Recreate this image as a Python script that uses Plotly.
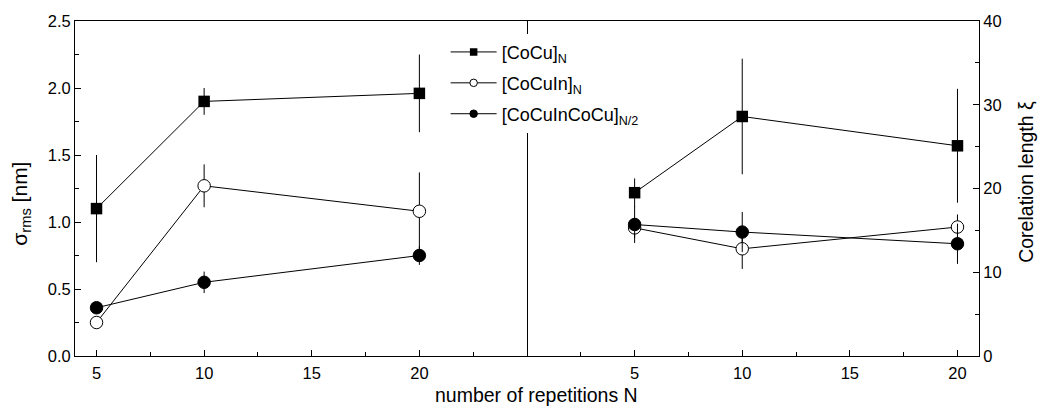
import plotly.graph_objects as go

# Number of repetitions N
reps = [5, 10, 20]

# Roughness sigma_rms [nm]
rms_cocu = [1.10, 1.90, 1.96]
rms_cocu_err = [0.40, 0.10, 0.29]
rms_cocuin = [0.25, 1.27, 1.08]
rms_cocuin_err = [0.03, 0.16, 0.29]
rms_multi = [0.36, 0.55, 0.75]
rms_multi_err = [0.03, 0.08, 0.07]

# Correlation length xi
xi_cocu = [19.5, 28.6, 25.1]
xi_cocu_err = [1.7, 6.9, 6.8]
xi_cocuin = [15.3, 12.8, 15.4]
xi_cocuin_err = [1.2, 2.4, 1.5]
xi_multi = [15.7, 14.8, 13.4]
xi_multi_err = [2.2, 2.4, 2.4]

series_names = ["[CoCu]<sub>N</sub>", "[CoCuIn]<sub>N</sub>", "[CoCuInCoCu]<sub>N/2</sub>"]

FONT = "Liberation Sans, Arial, sans-serif"
INK = "black"

styles = [
    dict(symbol="square", size=11.5, color=INK, line=dict(width=0, color=INK)),
    dict(symbol="circle", size=12.5, color="white", line=dict(width=1, color=INK)),
    dict(symbol="circle", size=12.5, color=INK, line=dict(width=1, color=INK)),
]

fig = go.Figure()

left_sets = [(rms_cocu, rms_cocu_err), (rms_cocuin, rms_cocuin_err), (rms_multi, rms_multi_err)]
right_sets = [(xi_cocu, xi_cocu_err), (xi_cocuin, xi_cocuin_err), (xi_multi, xi_multi_err)]

for (vals, errs), st in zip(left_sets, styles):
    fig.add_trace(go.Scatter(
        x=reps, y=vals, mode="lines+markers",
        line=dict(color=INK, width=1), marker=st,
        error_y=dict(type="data", array=errs, color=INK, thickness=1, width=0),
        xaxis="x", yaxis="y", showlegend=False,
    ))

for (vals, errs), st in zip(right_sets, styles):
    fig.add_trace(go.Scatter(
        x=reps, y=vals, mode="lines+markers",
        line=dict(color=INK, width=1), marker=st,
        error_y=dict(type="data", array=errs, color=INK, thickness=1, width=0),
        xaxis="x2", yaxis="y2", showlegend=False,
    ))

# legend entries with smaller symbols
for name, st in zip(series_names, styles):
    small = dict(st)
    small["size"] = 7.5
    fig.add_trace(go.Scatter(
        x=[None], y=[None], mode="lines+markers", name=name,
        line=dict(color=INK, width=1), marker=small,
        xaxis="x", yaxis="y", legendgroup=name,
    ))

tick_font = dict(family=FONT, size=16.5, color=INK)
common_x = dict(
    showline=True, linecolor=INK, linewidth=1, mirror=True,
    ticks="inside", ticklen=6, tickwidth=1, tickcolor=INK, ticklabelstandoff=2,
    tickvals=[5, 10, 15, 20], tickfont=tick_font, showgrid=False, zeroline=False,
    minor=dict(ticks="inside", ticklen=4, tickwidth=1, tickcolor=INK, dtick=2.5, tick0=0, showgrid=False),
)

fig.update_layout(
    width=1038, height=408,
    margin=dict(l=75, r=59, t=19, b=52),
    plot_bgcolor="white", paper_bgcolor="white",
    font=dict(family=FONT, color=INK),
    xaxis=dict(domain=[0, 0.5], range=[4, 25], anchor="y", **common_x),
    xaxis2=dict(domain=[0.5, 1], range=[0, 21], anchor="y2", **common_x),
    yaxis=dict(
        anchor="x", range=[0, 2.5], tickvals=[0, 0.5, 1.0, 1.5, 2.0, 2.5], tickformat=".1f",
        showline=True, linecolor=INK, linewidth=1, mirror=True,
        ticks="inside", ticklen=6, tickwidth=1, tickcolor=INK, tickfont=tick_font,
        showgrid=False, zeroline=False,
        minor=dict(ticks="inside", ticklen=4, tickwidth=1, tickcolor=INK, dtick=0.25, tick0=0, showgrid=False),
    ),
    yaxis2=dict(
        anchor="x2", side="right", range=[0, 40], tickvals=[0, 10, 20, 30, 40],
        showline=True, linecolor=INK, linewidth=1, mirror=False,
        ticks="inside", ticklen=6, tickwidth=1, tickcolor=INK, tickfont=tick_font,
        showgrid=False, zeroline=False,
        minor=dict(ticks="inside", ticklen=4, tickwidth=1, tickcolor=INK, dtick=5, tick0=0, showgrid=False),
    ),
    legend=dict(
        x=0.41, y=0.962, xanchor="left", yanchor="top",
        bgcolor="white", borderwidth=0,
        font=dict(family=FONT, size=18, color=INK),
        itemwidth=46, tracegroupgap=4.5, traceorder="grouped",
    ),
    annotations=[
        dict(text="number of repetitions N", xref="paper", yref="paper", x=0.51, y=-0.115,
             xanchor="center", yanchor="middle", showarrow=False, font=dict(size=19.5)),
        dict(text="σ<sub>rms</sub> [nm]", xref="paper", yref="paper", x=-0.06, y=0.454,
             xanchor="center", yanchor="middle", textangle=-90, showarrow=False, font=dict(size=21)),
        dict(text="Corelation length ξ", xref="paper", yref="paper", x=1.052, y=0.52,
             xanchor="center", yanchor="middle", textangle=-90, showarrow=False, font=dict(size=19.5)),
    ],
)

fig.write_html("out.html")
